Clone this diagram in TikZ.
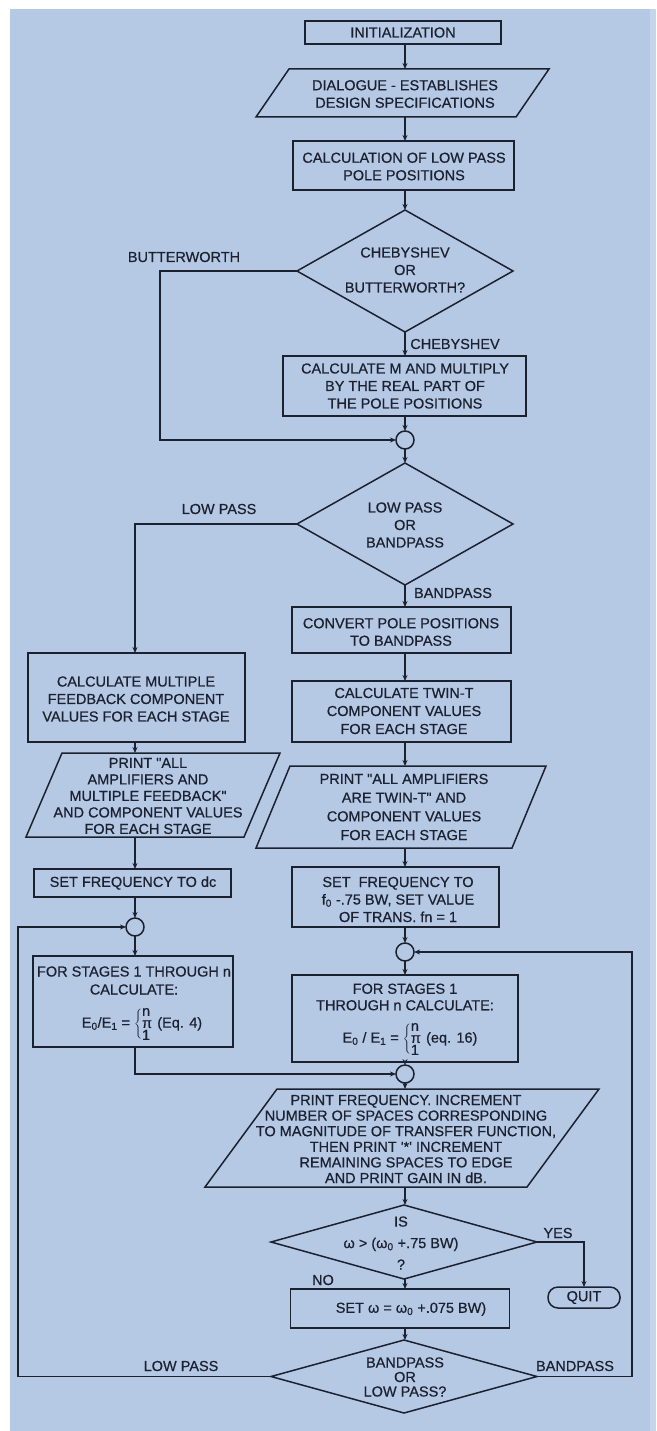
\documentclass[tikz,border=0pt]{standalone}
\usepackage{fontspec}
\setmainfont{Liberation Sans}[Ligatures=TeXOff, FakeBold=0.6]
\usetikzlibrary{arrows.meta,shapes.geometric}
\definecolor{bgblue}{HTML}{B5C9E5}
\definecolor{bgedge}{HTML}{C6D5EA}
\definecolor{ink}{HTML}{1C2130}
\newcommand{\prodbrace}{$\left\{\vcenter{\baselineskip=12pt\lineskiplimit=-20pt\hbox{n}\hbox{π}\hbox{1}}\right.$}
\begin{document}
\begin{tikzpicture}[x=1pt,y=-1pt,
  every node/.style={inner sep=0pt, outer sep=0pt},
  txt/.style={align=center, text=ink, font=\fontsize{14.5}{17.5}\selectfont},
  lbl/.style={text=ink, font=\fontsize{14.5}{17.5}\selectfont},
  box/.style={draw=ink, line width=1.5pt, rectangle},
  frame/.style={rectangle},
  dia/.style={draw=ink, line width=1.5pt, diamond},
  joint/.style={draw=ink, line width=1.5pt, circle, minimum size=18pt},
  edge/.style={draw=ink, line width=1.5pt, line join=miter},
  flow/.style={draw=ink, line width=1.5pt, -{Stealth[length=6pt,width=5pt]}},
]
\fill[white] (0,0) rectangle (656,1431);
\fill[bgblue] (10,9) rectangle (656,1431);
\fill[bgedge] (650,9) rectangle (656,1431);
\useasboundingbox (0,0) rectangle (656,1431);

\coordinate (axis) at (405,0);
\coordinate (laxis) at (135,0);
\coordinate (bx) at (160,0);
\coordinate (lx) at (18,0);
\coordinate (rx) at (632,0);

% ---------- main column
\node[box, minimum width=196pt, minimum height=23pt] (init) at (403,32.5) {};
\node[txt] (tinit) at (init) {INITIALIZATION};

\node[frame, minimum width=293pt, minimum height=48pt] (dialog) at (402.5,93) {};
\draw[edge] ([xshift=33pt]dialog.north west) -- (dialog.north east) -- ([xshift=-33pt]dialog.south east) -- (dialog.south west) -- cycle;
\node[txt] (tdialog) at (405,94) {DIALOGUE - ESTABLISHES\\DESIGN SPECIFICATIONS};

\node[box, minimum width=221pt, minimum height=49pt] (calc) at (403.5,165.5) {};
\node[txt] (tcalc) at (404,166.5) {CALCULATION OF LOW PASS\\POLE POSITIONS};

\node[dia, minimum width=216pt, minimum height=122pt] (d1) at (405,271) {};
\node[txt] (td1) at (405,270) {CHEBYSHEV\\OR\\BUTTERWORTH?};

\node[box, minimum width=243pt, minimum height=60pt] (calcM) at (404.5,386) {};
\node[txt] (tcalcM) at (405,386) {CALCULATE M AND MULTIPLY\\BY THE REAL PART OF\\THE POLE POSITIONS};

\node[joint] (c1) at (405,440) {};

\node[dia, minimum width=216pt, minimum height=122pt] (d2) at (405,524) {};
\node[txt] (td2) at (405,525) {LOW PASS\\OR\\BANDPASS};

\node[box, minimum width=219pt, minimum height=46pt] (convert) at (401.5,630) {};
\node[txt] (tconvert) at (401,632) {CONVERT POLE POSITIONS\\TO BANDPASS};

\node[box, minimum width=219pt, minimum height=61pt] (twin) at (401.5,711.5) {};
\node[txt, font=\fontsize{14.5}{18}\selectfont] (ttwin) at (404,711) {CALCULATE TWIN-T\\COMPONENT VALUES\\FOR EACH STAGE};

\node[frame, minimum width=290pt, minimum height=82pt] (printR) at (401,807) {};
\draw[edge] ([xshift=34pt]printR.north west) -- (printR.north east) -- ([xshift=-34pt]printR.south east) -- (printR.south west) -- cycle;
\node[txt, font=\fontsize{14.5}{18.7}\selectfont] (tprintR) at (404,807) {PRINT "ALL AMPLIFIERS\\ARE TWIN-T" AND\\COMPONENT VALUES\\FOR EACH STAGE};

\node[box, minimum width=207pt, minimum height=60pt] (setR) at (395.5,897) {};
\node[txt] (tsetR) at (398,899.5) {SET \ FREQUENCY TO\\f\textsubscript{0} -.75 BW, SET VALUE\\OF TRANS. fn = 1};

\node[joint] (c2) at (405,952) {};

\node[box, minimum width=226pt, minimum height=87pt] (forR) at (405,1018.5) {};
\node[txt, font=\fontsize{14.5}{16.5}\selectfont] (tforR) at (405,997) {FOR STAGES 1\\THROUGH n CALCULATE:};
\node[lbl] (fR) at (410,1039) {E\textsubscript{0} / E\textsubscript{1} = \prodbrace\ (eq. 16)};

\node[joint] (c3) at (405,1074) {};

\node[frame, minimum width=394pt, minimum height=98pt] (printF) at (402,1138) {};
\draw[edge] ([xshift=72pt]printF.north west) -- (printF.north east) -- ([xshift=-72pt]printF.south east) -- (printF.south west) -- cycle;
\node[txt, font=\fontsize{14.5}{15.6}\selectfont] (tprintF) at (406,1139) {PRINT FREQUENCY. INCREMENT\\NUMBER OF SPACES CORRESPONDING\\TO MAGNITUDE OF TRANSFER FUNCTION,\\THEN PRINT \textquotesingle*\textquotesingle\ INCREMENT\\REMAINING SPACES TO EDGE\\AND PRINT GAIN IN dB.};

\node[dia, minimum width=266pt, minimum height=74pt] (d3) at (404,1242) {};
\node[txt, font=\fontsize{14.5}{21.5}\selectfont] (td3) at (401,1243) {IS\\ω > (ω\textsubscript{0} +.75 BW)\\?};

\node[box, minimum width=219pt, minimum height=39pt] (setW) at (400,1308.5) {};
\node[txt] (tsetW) at (411,1309) {SET ω = ω\textsubscript{0} +.075 BW)};

\node[box, rounded corners=10pt, minimum width=72pt, minimum height=21pt] (quit) at (584,1297.5) {};
\node[txt] (tquit) at (quit) {QUIT};

\node[dia, minimum width=266pt, minimum height=73pt] (d4) at (404,1376.5) {};
\node[txt, font=\fontsize{14.5}{14.5}\selectfont] (td4) at (405,1377) {BANDPASS\\OR\\LOW PASS?};

% ---------- left column
\node[box, minimum width=217pt, minimum height=89pt] (calcMF) at (136.5,697.5) {};
\node[txt] (tcalcMF) at (136,699) {CALCULATE MULTIPLE\\FEEDBACK COMPONENT\\VALUES FOR EACH STAGE};

\node[frame, minimum width=254pt, minimum height=84pt] (printL) at (153,795) {};
\draw[edge] ([xshift=36pt]printL.north west) -- (printL.north east) -- ([xshift=-36pt]printL.south east) -- (printL.south west) -- cycle;
\node[txt, font=\fontsize{14.5}{16.5}\selectfont] (tprintL) at (148,796) {PRINT "ALL\\AMPLIFIERS AND\\MULTIPLE FEEDBACK"\\AND COMPONENT VALUES\\FOR EACH STAGE};

\node[box, minimum width=197pt, minimum height=28pt] (setdc) at (132.5,883) {};
\node[txt] (tsetdc) at (133,883) {SET FREQUENCY TO dc};

\node[joint] (c4) at (135,927) {};

\node[box, minimum width=200pt, minimum height=91pt] (forL) at (133,1001.5) {};
\node[txt, font=\fontsize{14.5}{18}\selectfont] (tforL) at (134,980.5) {FOR STAGES 1 THROUGH n\\CALCULATE:};
\node[lbl] (fL) at (142,1024) {E\textsubscript{0}/E\textsubscript{1} = \prodbrace\ (Eq. 4)};

% ---------- labels
\node[lbl] (lbutter) at (184,257) {BUTTERWORTH};
\node[lbl] (lcheby) at (455,344) {CHEBYSHEV};
\node[lbl] (llow1) at (219,509) {LOW PASS};
\node[lbl] (lband1) at (453,593) {BANDPASS};
\node[lbl] (lyes) at (558,1233) {YES};
\node[lbl] (lno) at (323,1280) {NO};
\node[lbl] (llow2) at (181,1366) {LOW PASS};
\node[lbl] (lband2) at (575,1366) {BANDPASS};

% ---------- connectors
\draw[flow] (init.south -| axis) -- (dialog.north -| axis);
\draw[flow] (dialog.south -| axis) -- (calc.north -| axis);
\draw[flow] (calc.south -| axis) -- (d1.north);
\draw[flow] (d1.west) -| (c1.west -| bx) -- (c1.west);
\draw[flow] (d1.south) -- (calcM.north -| axis);
\draw[flow] (calcM.south -| axis) -- (c1.north);
\draw[flow] (c1.south) -- (d2.north);
\draw[flow] (d2.west) -| (calcMF.north -| laxis);
\draw[flow] (d2.south) -- (convert.north -| axis);
\draw[flow] (convert.south -| axis) -- (twin.north -| axis);
\draw[flow] (twin.south -| axis) -- (printR.north -| axis);
\draw[flow] (printR.south -| axis) -- (setR.north -| axis);
\draw[flow] (setR.south -| axis) -- (c2.north);
\draw[flow] (c2.south) -- (forR.north -| axis);
\draw[flow] (forR.south -| axis) -- (c3.north);
\draw[flow] (c3.south) -- (printF.north -| axis);
\draw[flow] (printF.south -| axis) -- (d3.north -| axis);
\draw[flow] (d3.south -| axis) -- (setW.north -| axis);
\draw[flow] (d3.east) -| (quit.north);
\draw[flow] (setW.south -| axis) -- (d4.north -| axis);
\draw[flow] (d4.west) -| (c4.west -| lx) -- (c4.west);
\draw[flow] (d4.east) -| (c2.east -| rx) -- (c2.east);
\draw[flow] (calcMF.south -| laxis) -- (printL.north -| laxis);
\draw[flow] (printL.south -| laxis) -- (setdc.north -| laxis);
\draw[flow] (setdc.south -| laxis) -- (c4.north);
\draw[flow] (c4.south) -- (forL.north -| laxis);
\draw[flow] (forL.south -| laxis) |- (c3.west);
\end{tikzpicture}
\end{document}
